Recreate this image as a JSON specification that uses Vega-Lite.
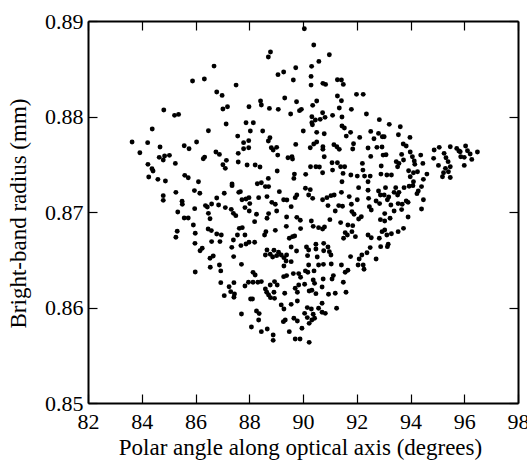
{
"$schema": "https://vega.github.io/schema/vega-lite/v6.json",
"width": 430, "height": 382,
"autosize": {"type": "none"},
"padding": {"left": 88, "top": 21, "right": 9, "bottom": 61},
"background": "white",
"config": {"font": "Liberation Serif", "view": {"stroke": null},
 "axis": {"grid": false, "domainColor": "black", "domainWidth": 2, "tickColor": "black", "tickWidth": 1.2, "tickSize": -9, "labelColor": "black", "titleColor": "black", "labelFontSize": 22, "titleFontSize": 23, "labelFont": "Liberation Serif", "titleFont": "Liberation Serif", "titleFontWeight": "normal", "labelFlush": false, "labelOverlap": false}},
"datasets": {"pts": [
{"angle":86.69,"radius":0.88528},{"angle":85.89,"radius":0.88371},{"angle":86.33,"radius":0.88392},{"angle":87.51,"radius":0.88329},{"angle":86.79,"radius":0.88256},{"angle":86.99,"radius":0.88221},{"angle":84.82,"radius":0.88068},{"angle":85.22,"radius":0.88012},{"angle":85.37,"radius":0.88022},{"angle":87.02,"radius":0.88078},{"angle":87.19,"radius":0.88102},{"angle":87.99,"radius":0.88102},{"angle":84.39,"radius":0.87869},{"angle":86.48,"radius":0.87851},{"angle":87.14,"radius":0.87921},{"angle":87.88,"radius":0.87935},{"angle":88.04,"radius":0.87848},{"angle":87.57,"radius":0.87795},{"angle":83.64,"radius":0.87733},{"angle":84.22,"radius":0.87726},{"angle":84.68,"radius":0.8768},{"angle":83.93,"radius":0.87621},{"angle":85.58,"radius":0.87694},{"angle":85.76,"radius":0.87663},{"angle":86.04,"radius":0.87733},{"angle":84.65,"radius":0.87572},{"angle":84.8,"radius":0.87544},{"angle":84.85,"radius":0.87586},{"angle":85.03,"radius":0.87593},{"angle":85.25,"radius":0.87509},{"angle":86.29,"radius":0.87558},{"angle":86.34,"radius":0.87575},{"angle":86.76,"radius":0.87628},{"angle":86.89,"radius":0.87603},{"angle":87.15,"radius":0.87541},{"angle":87.02,"radius":0.87495},{"angle":87.11,"radius":0.87457},{"angle":87.59,"radius":0.87614},{"angle":87.79,"radius":0.87726},{"angle":87.98,"radius":0.87747},{"angle":87.79,"radius":0.87663},{"angle":87.98,"radius":0.87673},{"angle":87.59,"radius":0.87523},{"angle":87.92,"radius":0.87492},{"angle":84.23,"radius":0.87499},{"angle":84.38,"radius":0.87453},{"angle":84.42,"radius":0.87429},{"angle":84.26,"radius":0.87366},{"angle":84.6,"radius":0.87342},{"angle":84.88,"radius":0.87324},{"angle":85.6,"radius":0.87384},{"angle":85.73,"radius":0.87359},{"angle":86.11,"radius":0.87317},{"angle":87.36,"radius":0.87293},
{"angle":90.05,"radius":0.88919},{"angle":90.4,"radius":0.88748},{"angle":88.79,"radius":0.88675},{"angle":88.71,"radius":0.88623},{"angle":90.98,"radius":0.88647},{"angle":90.59,"radius":0.88577},{"angle":90.32,"radius":0.88525},{"angle":89.73,"radius":0.88511},{"angle":89.07,"radius":0.88438},{"angle":89.28,"radius":0.88466},{"angle":89.64,"radius":0.88382},{"angle":90.3,"radius":0.8842},{"angle":90.3,"radius":0.88329},{"angle":90.74,"radius":0.88347},{"angle":90.84,"radius":0.88336},{"angle":91.28,"radius":0.88385},{"angle":91.43,"radius":0.88382},{"angle":91.5,"radius":0.88336},{"angle":91.99,"radius":0.88232},{"angle":92.24,"radius":0.88232},{"angle":88.42,"radius":0.88162},{"angle":88.45,"radius":0.8812},{"angle":88.75,"radius":0.88085},{"angle":89.08,"radius":0.88075},{"angle":89.32,"radius":0.88193},{"angle":89.76,"radius":0.88155},{"angle":89.94,"radius":0.88075},{"angle":89.87,"radius":0.88061},{"angle":89.54,"radius":0.88026},{"angle":90.51,"radius":0.88162},{"angle":90.36,"radius":0.88117},{"angle":91.28,"radius":0.88214},{"angle":91.43,"radius":0.88165},{"angle":91.35,"radius":0.88089},{"angle":91.8,"radius":0.88075},{"angle":92.36,"radius":0.88026},{"angle":90.73,"radius":0.8804},{"angle":90.33,"radius":0.87998},{"angle":90.46,"radius":0.87963},{"angle":90.64,"radius":0.8797},{"angle":90.82,"radius":0.87991},{"angle":91.1,"radius":0.88012},{"angle":91.45,"radius":0.87994},{"angle":90.33,"radius":0.87935},{"angle":90.35,"radius":0.87914},{"angle":88.15,"radius":0.87935},{"angle":88.5,"radius":0.87848},{"angle":90.01,"radius":0.87848},{"angle":90.51,"radius":0.87834},{"angle":90.79,"radius":0.8782},{"angle":91.45,"radius":0.879},{"angle":91.54,"radius":0.87879},{"angle":91.61,"radius":0.87795},{"angle":91.77,"radius":0.87834},{"angle":92.11,"radius":0.87781},{"angle":92.52,"radius":0.87844},{"angle":92.84,"radius":0.87967},{"angle":92.81,"radius":0.87823},{"angle":92.64,"radius":0.87767},{"angle":92.95,"radius":0.87788},{"angle":88.77,"radius":0.87778},{"angle":88.71,"radius":0.87743},{"angle":88.82,"radius":0.87673},{"angle":89.02,"radius":0.87677},{"angle":88.89,"radius":0.87649},{"angle":89.06,"radius":0.87596},{"angle":89.44,"radius":0.87568},{"angle":89.59,"radius":0.87579},{"angle":89.61,"radius":0.87554},{"angle":89.73,"radius":0.87708},{"angle":90.27,"radius":0.87673},{"angle":90.4,"radius":0.87712},{"angle":90.51,"radius":0.87733},{"angle":90.74,"radius":0.87684},{"angle":90.74,"radius":0.87656},{"angle":90.79,"radius":0.87579},{"angle":91.15,"radius":0.87705},{"angle":91.26,"radius":0.87684},{"angle":91.35,"radius":0.87656},{"angle":91.85,"radius":0.87659},{"angle":91.88,"radius":0.87715},{"angle":92.42,"radius":0.8767},{"angle":92.52,"radius":0.87582},{"angle":92.75,"radius":0.87677},{"angle":92.94,"radius":0.8768},{"angle":92.98,"radius":0.87596},{"angle":88.22,"radius":0.87492},{"angle":88.4,"radius":0.87471},{"angle":89.04,"radius":0.87429},{"angle":88.71,"radius":0.87352},{"angle":88.45,"radius":0.87307},{"angle":88.3,"radius":0.87296},{"angle":89.68,"radius":0.87397},{"angle":89.66,"radius":0.87352},{"angle":90.1,"radius":0.87394},{"angle":90.28,"radius":0.87474},{"angle":90.48,"radius":0.87474},{"angle":90.61,"radius":0.87471},{"angle":90.73,"radius":0.87411},{"angle":91.08,"radius":0.87516},{"angle":91.28,"radius":0.87516},{"angle":91.1,"radius":0.87439},{"angle":91.4,"radius":0.87474},{"angle":91.55,"radius":0.87474},{"angle":91.49,"radius":0.87404},{"angle":91.78,"radius":0.87387},{"angle":92.02,"radius":0.87376},{"angle":92.21,"radius":0.87509},{"angle":92.23,"radius":0.87439},{"angle":92.29,"radius":0.87376},{"angle":92.5,"radius":0.87376},{"angle":92.91,"radius":0.87481},{"angle":92.9,"radius":0.87397},{"angle":91.45,"radius":0.87317},{"angle":92.42,"radius":0.87317},
{"angle":93.21,"radius":0.87918},{"angle":93.62,"radius":0.87893},{"angle":93.55,"radius":0.87809},{"angle":93.98,"radius":0.87781},{"angle":93.02,"radius":0.87788},{"angle":93.73,"radius":0.87712},{"angle":93.84,"radius":0.87691},{"angle":93.09,"radius":0.876},{"angle":93.67,"radius":0.87603},{"angle":93.99,"radius":0.87628},{"angle":94.07,"radius":0.87579},{"angle":94.38,"radius":0.87596},{"angle":93.47,"radius":0.87527},{"angle":93.57,"radius":0.87509},{"angle":93.74,"radius":0.87544},{"angle":93.52,"radius":0.87474},{"angle":94.14,"radius":0.87534},{"angle":94.16,"radius":0.87499},{"angle":94.46,"radius":0.87509},{"angle":93.93,"radius":0.87432},{"angle":94.11,"radius":0.87411},{"angle":93.99,"radius":0.87369},{"angle":94.26,"radius":0.87422},{"angle":94.61,"radius":0.87397},{"angle":94.48,"radius":0.87342},{"angle":94.11,"radius":0.87317},{"angle":93.29,"radius":0.87387},{"angle":93.12,"radius":0.87387},{"angle":94.88,"radius":0.87649},{"angle":95.07,"radius":0.87677},{"angle":95.25,"radius":0.87614},{"angle":95.48,"radius":0.87684},{"angle":95.72,"radius":0.87666},{"angle":95.8,"radius":0.87638},{"angle":96.05,"radius":0.87691},{"angle":96.12,"radius":0.87642},{"angle":96.22,"radius":0.87607},{"angle":96.49,"radius":0.87628},{"angle":96.28,"radius":0.87551},{"angle":94.86,"radius":0.87562},{"angle":95.32,"radius":0.87568},{"angle":95.87,"radius":0.87579},{"angle":96.0,"radius":0.87572},{"angle":95.04,"radius":0.87488},{"angle":95.4,"radius":0.87527},{"angle":95.48,"radius":0.87474},{"angle":95.3,"radius":0.87457},{"angle":95.41,"radius":0.87422},{"angle":95.23,"radius":0.87411},{"angle":95.19,"radius":0.87369},{"angle":95.48,"radius":0.87362},{"angle":96.0,"radius":0.87488},{"angle":95.85,"radius":0.87631},
{"angle":84.8,"radius":0.87171},{"angle":84.8,"radius":0.87122},{"angle":85.27,"radius":0.87206},{"angle":85.96,"radius":0.87224},{"angle":86.16,"radius":0.87196},{"angle":85.5,"radius":0.87112},{"angle":85.51,"radius":0.87081},{"angle":85.34,"radius":0.87},{"angle":85.97,"radius":0.87035},{"angle":86.37,"radius":0.87067},{"angle":86.44,"radius":0.87053},{"angle":86.6,"radius":0.87084},{"angle":86.79,"radius":0.87147},{"angle":86.86,"radius":0.87074},{"angle":87.07,"radius":0.87196},{"angle":87.11,"radius":0.87046},{"angle":87.33,"radius":0.87028},{"angle":87.36,"radius":0.87276},{"angle":87.61,"radius":0.87206},{"angle":87.67,"radius":0.87213},{"angle":87.73,"radius":0.87129},{"angle":87.88,"radius":0.87136},{"angle":87.99,"radius":0.8715},{"angle":87.84,"radius":0.87046},{"angle":88.02,"radius":0.87088},{"angle":88.0,"radius":0.87011},{"angle":87.41,"radius":0.86986},{"angle":87.5,"radius":0.86962},{"angle":86.48,"radius":0.86986},{"angle":86.54,"radius":0.8693},{"angle":85.58,"radius":0.86937},{"angle":85.73,"radius":0.86937},{"angle":85.92,"radius":0.86864},{"angle":85.32,"radius":0.86798},{"angle":85.27,"radius":0.86735},{"angle":85.99,"radius":0.86777},{"angle":86.47,"radius":0.86822},{"angle":86.59,"radius":0.86805},{"angle":86.79,"radius":0.8677},{"angle":86.96,"radius":0.86759},{"angle":87.63,"radius":0.86829},{"angle":87.74,"radius":0.86836},{"angle":87.56,"radius":0.86759},{"angle":87.84,"radius":0.86759},{"angle":87.41,"radius":0.86707},{"angle":85.98,"radius":0.86672},{"angle":86.25,"radius":0.8662},{"angle":86.17,"radius":0.86595},{"angle":86.6,"radius":0.8669},{"angle":86.91,"radius":0.8669},{"angle":87.35,"radius":0.8663},{"angle":87.69,"radius":0.86648},{"angle":87.88,"radius":0.86665},{"angle":87.99,"radius":0.86683},{"angle":87.42,"radius":0.86533},{"angle":86.66,"radius":0.8654},{"angle":86.54,"radius":0.86515},{"angle":86.55,"radius":0.86421},{"angle":86.89,"radius":0.86445},{"angle":86.94,"radius":0.86383},{"angle":87.71,"radius":0.86452},{"angle":85.99,"radius":0.86372},{"angle":86.94,"radius":0.8626},{"angle":87.25,"radius":0.86218},{"angle":87.43,"radius":0.8626},{"angle":87.31,"radius":0.86166},{"angle":87.45,"radius":0.86142},{"angle":87.43,"radius":0.86107},{"angle":87.07,"radius":0.86124},{"angle":87.84,"radius":0.86225},{"angle":87.97,"radius":0.86264},{"angle":88.05,"radius":0.86089},{"angle":87.71,"radius":0.85932},{"angle":88.08,"radius":0.85796},
{"angle":88.6,"radius":0.87266},{"angle":88.72,"radius":0.87266},{"angle":89.12,"radius":0.87213},{"angle":88.35,"radius":0.8715},{"angle":88.66,"radius":0.87161},{"angle":88.84,"radius":0.87101},{"angle":88.97,"radius":0.87081},{"angle":89.02,"radius":0.87011},{"angle":88.72,"radius":0.86983},{"angle":89.28,"radius":0.87129},{"angle":89.4,"radius":0.87126},{"angle":89.56,"radius":0.87056},{"angle":89.71,"radius":0.8715},{"angle":89.77,"radius":0.87178},{"angle":90.09,"radius":0.87248},{"angle":90.27,"radius":0.87234},{"angle":90.21,"radius":0.87178},{"angle":90.36,"radius":0.87143},{"angle":90.73,"radius":0.87129},{"angle":90.89,"radius":0.8715},{"angle":91.04,"radius":0.87171},{"angle":91.16,"radius":0.87178},{"angle":91.43,"radius":0.87206},{"angle":90.93,"radius":0.87067},{"angle":91.33,"radius":0.87067},{"angle":91.47,"radius":0.8706},{"angle":91.2,"radius":0.87011},{"angle":91.72,"radius":0.87161},{"angle":91.8,"radius":0.87081},{"angle":91.82,"radius":0.87004},{"angle":92.02,"radius":0.87129},{"angle":92.07,"radius":0.87255},{"angle":92.42,"radius":0.87227},{"angle":92.44,"radius":0.87143},{"angle":92.47,"radius":0.87056},{"angle":92.54,"radius":0.87021},{"angle":92.81,"radius":0.8722},{"angle":92.88,"radius":0.87178},{"angle":92.72,"radius":0.87115},{"angle":92.85,"radius":0.87088},{"angle":92.17,"radius":0.86951},{"angle":92.07,"radius":0.86927},{"angle":91.9,"radius":0.86976},
{"angle":88.27,"radius":0.86976},{"angle":88.2,"radius":0.86899},{"angle":88.66,"radius":0.86934},{"angle":89.39,"radius":0.86948},{"angle":89.77,"radius":0.86944},{"angle":89.38,"radius":0.8685},{"angle":89.9,"radius":0.86913},{"angle":90.31,"radius":0.86906},{"angle":90.38,"radius":0.8685},{"angle":89.91,"radius":0.86826},{"angle":90.58,"radius":0.86836},{"angle":90.73,"radius":0.86822},{"angle":90.8,"radius":0.86843},{"angle":91.0,"radius":0.8692},{"angle":91.4,"radius":0.86889},{"angle":91.67,"radius":0.86864},{"angle":91.85,"radius":0.86857},{"angle":91.65,"radius":0.86759},{"angle":91.57,"radius":0.86784},{"angle":91.82,"radius":0.86794},{"angle":91.95,"radius":0.86742},{"angle":91.51,"radius":0.86725},{"angle":92.42,"radius":0.86759},{"angle":92.54,"radius":0.86731},{"angle":92.84,"radius":0.86725},{"angle":92.94,"radius":0.86794},{"angle":92.88,"radius":0.8692},{"angle":92.5,"radius":0.86627},{"angle":92.89,"radius":0.86637},{"angle":92.38,"radius":0.86574},{"angle":92.19,"radius":0.8655},{"angle":92.09,"radius":0.86508},{"angle":92.24,"radius":0.86445},{"angle":92.27,"radius":0.864},{"angle":92.05,"radius":0.86445},{"angle":91.77,"radius":0.86533},{"angle":92.72,"radius":0.86508},{"angle":88.62,"radius":0.86794},{"angle":88.57,"radius":0.86759},{"angle":88.97,"radius":0.86808},{"angle":88.2,"radius":0.86683},{"angle":89.49,"radius":0.86725},{"angle":89.61,"radius":0.86742},{"angle":89.69,"radius":0.86749},{"angle":89.56,"radius":0.86634},{"angle":89.76,"radius":0.86592},{"angle":88.66,"radius":0.86602},{"angle":88.6,"radius":0.8655},{"angle":88.78,"radius":0.86557},{"angle":88.92,"radius":0.86599},{"angle":88.87,"radius":0.86529},{"angle":89.02,"radius":0.86543},{"angle":89.09,"radius":0.86578},{"angle":89.19,"radius":0.8655},{"angle":89.29,"radius":0.86522},{"angle":89.39,"radius":0.8655},{"angle":89.37,"radius":0.86487},{"angle":89.56,"radius":0.8648},{"angle":89.29,"radius":0.86435},{"angle":90.13,"radius":0.86634},{"angle":90.21,"radius":0.86602},{"angle":90.17,"radius":0.86543},{"angle":90.48,"radius":0.86662},{"angle":90.48,"radius":0.86613},{"angle":90.53,"radius":0.86529},{"angle":90.77,"radius":0.86672},{"angle":90.93,"radius":0.86634},{"angle":90.98,"radius":0.86585},{"angle":91.04,"radius":0.8655},{"angle":90.77,"radius":0.86595},{"angle":90.76,"radius":0.86452},{"angle":90.58,"radius":0.86445},{"angle":91.05,"radius":0.86456},{"angle":91.43,"radius":0.86445},{"angle":90.21,"radius":0.86445},{"angle":90.09,"radius":0.86383},
{"angle":88.14,"radius":0.86368},{"angle":88.22,"radius":0.86341},{"angle":88.14,"radius":0.86264},{"angle":88.32,"radius":0.86264},{"angle":88.45,"radius":0.86271},{"angle":88.78,"radius":0.86236},{"angle":88.94,"radius":0.86271},{"angle":89.04,"radius":0.86236},{"angle":89.28,"radius":0.86323},{"angle":89.39,"radius":0.86334},{"angle":89.64,"radius":0.86355},{"angle":89.84,"radius":0.86355},{"angle":89.91,"radius":0.86316},{"angle":90.18,"radius":0.86369},{"angle":90.41,"radius":0.86383},{"angle":90.38,"radius":0.86288},{"angle":90.43,"radius":0.86253},{"angle":90.75,"radius":0.86299},{"angle":91.08,"radius":0.86299},{"angle":91.13,"radius":0.86334},{"angle":91.5,"radius":0.86264},{"angle":91.57,"radius":0.86369},{"angle":91.67,"radius":0.8639},{"angle":88.6,"radius":0.86194},{"angle":88.65,"radius":0.86159},{"angle":88.72,"radius":0.86131},{"angle":88.79,"radius":0.86103},{"angle":88.92,"radius":0.86159},{"angle":88.94,"radius":0.86096},{"angle":89.32,"radius":0.86149},{"angle":89.71,"radius":0.86201},{"angle":89.79,"radius":0.86159},{"angle":89.84,"radius":0.86236},{"angle":90.06,"radius":0.86243},{"angle":90.23,"radius":0.86173},{"angle":90.33,"radius":0.8618},{"angle":90.48,"radius":0.86145},{"angle":90.71,"radius":0.86215},{"angle":90.95,"radius":0.86138},{"angle":91.2,"radius":0.86149},{"angle":91.6,"radius":0.86159},{"angle":88.12,"radius":0.86089},{"angle":89.19,"radius":0.86027},{"angle":89.29,"radius":0.85985},{"angle":89.56,"radius":0.86033},{"angle":89.79,"radius":0.86068},{"angle":90.06,"radius":0.85939},{"angle":90.16,"radius":0.85999},{"angle":90.31,"radius":0.85985},{"angle":90.38,"radius":0.85929},{"angle":90.58,"radius":0.85992},{"angle":90.71,"radius":0.86044},{"angle":90.71,"radius":0.8595},{"angle":90.83,"radius":0.85939},{"angle":91.25,"radius":0.85992},{"angle":88.27,"radius":0.85964},{"angle":88.37,"radius":0.85936},{"angle":88.35,"radius":0.85869},{"angle":88.67,"radius":0.85775},{"angle":88.45,"radius":0.85747},{"angle":89.27,"radius":0.85852},{"angle":89.34,"radius":0.85869},{"angle":89.66,"radius":0.85887},{"angle":89.79,"radius":0.85859},{"angle":89.49,"radius":0.85747},{"angle":89.96,"radius":0.85782},{"angle":90.23,"radius":0.85834},{"angle":90.33,"radius":0.85869},{"angle":90.43,"radius":0.85887},{"angle":90.16,"radius":0.85894},{"angle":88.89,"radius":0.85712},{"angle":88.89,"radius":0.85656},{"angle":89.71,"radius":0.8567},{"angle":89.89,"radius":0.8567},{"angle":90.23,"radius":0.85635},
{"angle":93.45,"radius":0.87255},{"angle":93.76,"radius":0.87255},{"angle":93.95,"radius":0.87269},{"angle":94.09,"radius":0.87276},{"angle":94.41,"radius":0.87266},{"angle":94.29,"radius":0.8722},{"angle":94.24,"radius":0.87192},{"angle":94.48,"radius":0.87129},{"angle":94.41,"radius":0.87032},{"angle":93.07,"radius":0.87255},{"angle":93.02,"radius":0.87178},{"angle":93.19,"radius":0.87157},{"angle":93.14,"radius":0.87129},{"angle":93.39,"radius":0.87206},{"angle":93.52,"radius":0.87178},{"angle":93.57,"radius":0.87206},{"angle":93.27,"radius":0.87073},{"angle":93.54,"radius":0.87088},{"angle":93.69,"radius":0.87081},{"angle":93.84,"radius":0.87115},{"angle":93.91,"radius":0.87101},{"angle":93.39,"radius":0.87011},{"angle":93.67,"radius":0.87025},{"angle":93.04,"radius":0.86983},{"angle":93.24,"radius":0.86934},{"angle":93.04,"radius":0.86906},{"angle":93.91,"radius":0.86948},{"angle":93.74,"radius":0.86829},{"angle":93.54,"radius":0.86794},{"angle":93.29,"radius":0.86773},{"angle":93.12,"radius":0.86759},{"angle":93.04,"radius":0.86812},{"angle":93.17,"radius":0.86662},{"angle":93.14,"radius":0.86637}
]},
"data": {"name": "pts"},
"layer": [
 {"mark": {"type": "circle", "size": 24, "color": "black", "opacity": 1},
  "encoding": {
   "x": {"field": "angle", "type": "quantitative", "scale": {"domain": [82, 98], "nice": false, "zero": false},
    "axis": {"orient": "bottom", "values": [82,84,86,88,90,92,94,96,98], "format": "d", "title": "Polar angle along optical axis (degrees)", "labelPadding": 34, "labelBaseline": "alphabetic", "titleX": 212, "titleY": 51, "titleBaseline": "alphabetic", "titleAlign": "center", "titleAnchor": null}},
   "y": {"field": "radius", "type": "quantitative", "scale": {"domain": [0.85, 0.89], "nice": false, "zero": false},
    "axis": {"orient": "left", "values": [0.85,0.86,0.87,0.88,0.89], "format": ".2f", "title": "Bright-band radius (mm)", "labelPadding": 14, "titleX": -63, "titleY": 192, "titleAngle": -90, "titleBaseline": "alphabetic", "titleAlign": "center", "titleAnchor": null}}
  }},
 {"mark": {"type": "circle", "opacity": 0},
  "encoding": {
   "x": {"field": "angle", "type": "quantitative", "scale": {"domain": [82, 98], "nice": false, "zero": false},
    "axis": {"orient": "top", "values": [82,84,86,88,90,92,94,96,98], "labels": false, "title": null}},
   "y": {"field": "radius", "type": "quantitative", "scale": {"domain": [0.85, 0.89], "nice": false, "zero": false},
    "axis": {"orient": "right", "values": [0.85,0.86,0.87,0.88,0.89], "labels": false, "title": null}}
  }}
],
"resolve": {"axis": {"x": "independent", "y": "independent"}}
}
